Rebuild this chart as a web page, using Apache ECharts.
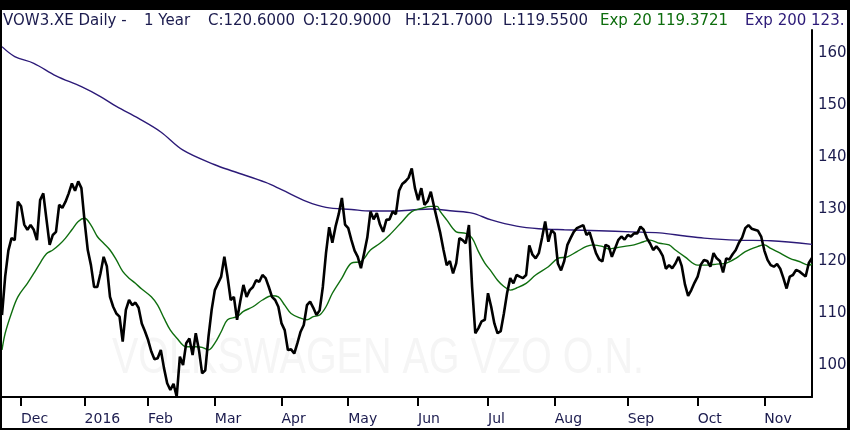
<!DOCTYPE html>
<html><head><meta charset="utf-8">
<script src="https://cdn.jsdelivr.net/npm/echarts@6/dist/echarts.min.js"></script>
<style>
html,body{margin:0;padding:0;background:#000;}
#outer{position:relative;width:850px;height:430px;background:#000;overflow:hidden;}
#chart{position:absolute;left:2px;top:10px;width:845px;height:418px;background:#fff;}
</style></head>
<body><div id="outer"><div id="chart"></div></div>
<script>
// ---- data ----
const holidays = ['2015-12-24','2015-12-25','2015-12-31','2016-01-01','2016-03-25','2016-03-28'];
const monthNames = ['Jan','Feb','Mar','Apr','May','Jun','Jul','Aug','Sep','Oct','Nov','Dec'];
const yearLabel = '2016';
const yTicks = [100,110,120,130,140,150,160];

const price = [
109.6,117,122,124.4,124,131.4,130.5,127,126,126.9,
126,124,131.7,133,128,123.1,125,125.6,130.8,130.2,
131.4,133,134.9,133.5,135.3,134,127.6,122.1,119.2,115,
115,117.6,120.8,119,113.1,111.2,109.9,109.3,104.5,110.6,
112.5,111.5,112,111,108,106.5,104.8,102.6,101.1,101.3,
102.9,99.4,96.5,95.2,96.4,93.9,101.6,100,104.2,105.1,
101.9,106.1,102.9,98.4,99,105.4,110.6,114.4,115.7,117,
120.8,117,112.5,113.1,108.7,112.2,115.4,113.1,114.4,115,
116.3,116,117.3,116.7,115,113.1,112.5,111.2,108,106.7,
102.9,103,102.2,104.2,106.4,107.7,111.5,112.2,111,109.6,
110.5,115,121.5,126.5,123.5,126.6,129,132.1,127,126.3,
124,122,120.8,118.6,121.5,124.5,129.5,128,129.2,127,
125.6,127.9,128,129.5,129,133.5,134.8,135.3,136,137.8,
134,131.7,134,130.8,131.5,133.3,130.5,127.9,125.3,122.1,
119.2,120,117.6,119.6,124.4,124,123.4,126.9,115,106.1,
107.1,108.4,108.7,113.8,111.2,108,106.1,106.5,109.9,113.8,
116.7,115.7,117.3,117,116.7,117.3,123,121.2,120.5,121.5,
124.4,127.6,123.7,125.9,125.3,119.5,118.2,120,123.1,124.4,
125.6,126.3,126.6,126.9,125,125.5,123.5,121.5,120.3,119.9,
123.1,122.8,120.8,122.4,124,124.7,124.1,125,124.7,125.3,
125.3,126.6,126,124.4,123.4,122.1,122.8,122.1,121,118.5,
119.2,118.6,119.5,120.8,119,115.5,113.3,114.4,115.8,117,
119.3,120.2,120,118.9,121.5,120.5,120,117.8,120.5,120.3,
121.3,122.1,123.5,124.5,126.3,126.9,126.2,126,125.8,124.7,
122,120.2,119.2,118.9,119.4,118.5,116.7,114.7,117,117.3,
118.3,118,117.5,117,119.6,120.6
];

const ema20Idx = [0,1,3,5,8,10,12,14,16,18,20,22,24,26,28,30,32,34,36,38,40,42,44,47,49,51,53,55,58,61,63,65,67,69,71,74,76,79,82,85,87,89,91,94,96,98,100,102,104,107,110,113,116,119,122,126,129,132,135,137,138,140,143,146,148,150,152,154,156,158,160,162,165,168,172,175,178,181,184,186,189,191,193,196,199,202,204,207,210,212,215,219,222,225,228,231,234,238,240,242,245,248,251,254,255];
const ema20Val = [102.9,106.1,110,113.1,115.7,117.6,119.6,121.4,122.1,123.1,124.4,126,127.6,128.2,126.9,124.7,123.4,122.1,120.2,118,116.7,115.7,114.6,113.1,111.5,109,106.7,105.2,103.5,103.5,103.4,102.9,104.2,106.4,108.7,109.3,110.3,111.2,112.5,113.3,113.1,111.5,109.9,109,108.7,109.3,109.6,111.2,113.8,116.7,119.6,119.9,122.1,123.4,125,127.6,129.5,130.1,130.5,130.5,129.5,127.9,125.6,125.3,124.4,121.8,119.6,118,116.3,115.1,114.4,114.8,115.7,117.3,118.9,120.5,120.8,121.8,122.8,123.1,122.8,122.3,122.5,122.8,123.1,123.7,124,123.4,123.1,122.1,120.8,119.2,119.2,119.4,119.6,120.5,121.8,122.8,123.1,122.4,121.5,120.5,119.9,119.2,119.37];

const ema200Idx = [0,4,10,17,25,31,36,43,50,57,67,73,83,88,96,102,110,116,123,129,135,142,148,154,162,169,177,188,198,207,215,221,231,242,255];
const ema200Val = [161.2,159.3,158,155.6,153.5,151.6,149.7,147.4,144.8,141.3,138.5,137.2,135.1,133.7,131.4,130.3,129.9,129.6,129.6,129.8,130,129.6,129.2,127.9,126.7,126.2,126,125.8,125.6,125.4,124.8,124.4,124,123.9,123.2];

const headerParts = [
  {t:'VOW3.XE Daily -', x:3, c:'#1b1b4e'},
  {t:'1 Year', x:144, c:'#1b1b4e'},
  {t:'C:120.6000', x:208, c:'#1b1b4e'},
  {t:'O:120.9000', x:303, c:'#1b1b4e'},
  {t:'H:121.7000', x:405, c:'#1b1b4e'},
  {t:'L:119.5500', x:503, c:'#1b1b4e'},
  {t:'Exp 20 119.3721', x:600, c:'#0d6d0d'},
  {t:'Exp 200 123.', x:745, c:'#2c1a78'}
];
const watermark = 'VOLKSWAGEN AG VZO O.N.';

// ---- categories (trading days) ----
const dates = [];
{
  let d = new Date(Date.UTC(2015,10,23));
  while (dates.length < price.length) {
    const dow = d.getUTCDay();
    const iso = d.toISOString().slice(0,10);
    if (dow >= 1 && dow <= 5 && holidays.indexOf(iso) < 0) dates.push(iso);
    d = new Date(d.getTime() + 86400000);
  }
}
function isMonthStart(i){ return i > 0 && dates[i].slice(0,7) !== dates[i-1].slice(0,7); }

const ema20Data = ema20Idx.map((ix,k)=>[dates[ix], ema20Val[k]]);
const ema200Data = ema200Idx.map((ix,k)=>[dates[ix], ema200Val[k]]);

const chart = echarts.init(document.getElementById('chart'), null, {renderer:'canvas'});
const font = '"DejaVu Sans", Verdana, sans-serif';
const graphics = headerParts.map(p => ({
  type:'text', x:p.x-2, y:11, z:10,
  style:{text:p.t, fill:p.c, font:'15px ' + font, textVerticalAlign:'middle', verticalAlign:'middle'}
}));
graphics.push({
  type:'text', x:110, y:349, scaleX:0.79, z:0, zlevel:0,
  style:{text:watermark, fill:'#f5f5f5', font:'50px "Liberation Sans", Arial, sans-serif', verticalAlign:'middle', textVerticalAlign:'middle'}
});

chart.setOption({
  animation:false,
  backgroundColor:'#fff',
  grid:{left:0, right:35, top:20, bottom:31, containLabel:false, outerBoundsMode:'none'},
  graphic: graphics,
  xAxis:{
    type:'category', data:dates, boundaryGap:false,
    axisLine:{lineStyle:{color:'#000', width:2}},
    axisTick:{interval:(i)=>isMonthStart(i), length:9, lineStyle:{color:'#000', width:2}},
    axisLabel:{
      interval:(i)=>isMonthStart(i), align:'left', margin:15,
      color:'#1b1b4e', fontSize:14, fontFamily:font,
      formatter:(v)=>{ const m = +v.slice(5,7); return m === 1 ? yearLabel : monthNames[m-1]; }
    },
    splitLine:{show:false}
  },
  yAxis:{
    type:'value', position:'right', min:93.85, max:164.4, scale:true,
    axisLine:{show:true, lineStyle:{color:'#000', width:2}},
    axisTick:{show:false},
    splitLine:{show:false},
    axisLabel:{
      margin:6, align:'left', color:'#1b1b4e', fontSize:15, fontFamily:font,
      showMinLabel:false, showMaxLabel:false,
      formatter:(v)=> yTicks.indexOf(Math.round(v*100)/100) >= 0 ? String(v) : ''
    }
  },
  series:[
    {type:'line', name:'Exp 200', data:ema200Data, showSymbol:false, smooth:0.35, z:3,
     lineStyle:{color:'#2c1a78', width:1.4}},
    {type:'line', name:'Exp 20', data:ema20Data, showSymbol:false, smooth:0.35, z:3,
     lineStyle:{color:'#0f6e0f', width:1.4}},
    {type:'line', name:'VOW3', data:price, showSymbol:false, z:4,
     lineStyle:{color:'#000', width:2.6}}
  ]
});
</script></body></html>
